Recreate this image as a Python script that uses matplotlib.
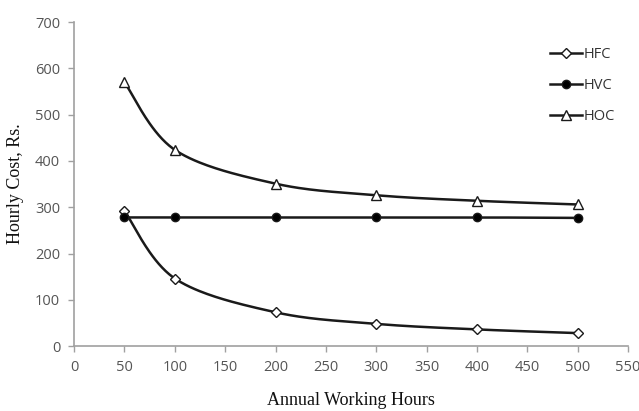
import numpy as np
import matplotlib
matplotlib.use("Agg")
import matplotlib.pyplot as plt

hours = [50, 100, 200, 300, 400, 500]
hfc = [292, 146, 73, 48, 36, 28]
hvc = [278, 278, 278, 278, 278, 277]
hoc = [570, 424, 351, 326, 314, 306]

x_ticks = list(range(0, 551, 50))
y_ticks = list(range(0, 701, 100))


def smooth(xs, ys, n=40):
    """Bezier curve through the points with control points at P + (next - prev) / 6."""
    pts = np.column_stack([xs, ys]).astype(float)
    k = len(pts)
    tang = np.empty_like(pts)
    tang[1:-1] = (pts[2:] - pts[:-2]) / 6.0
    tang[0] = (pts[1] - pts[0]) / 6.0
    tang[-1] = (pts[-1] - pts[-2]) / 6.0
    t = np.linspace(0, 1, n)[:, None]
    out = []
    for i in range(k - 1):
        p0, p3 = pts[i], pts[i + 1]
        p1, p2 = p0 + tang[i], p3 - tang[i + 1]
        seg = ((1 - t) ** 3) * p0 + 3 * ((1 - t) ** 2) * t * p1 \
            + 3 * (1 - t) * t ** 2 * p2 + t ** 3 * p3
        out.append(seg)
    out = np.vstack(out)
    return out[:, 0], out[:, 1]


fig = plt.figure(figsize=(6.39, 4.11), dpi=100)
ax = fig.add_axes([0.116, 0.158, 0.867, 0.788])

series = [
    ("HFC", hfc, dict(marker="D", markersize=5, markerfacecolor="white")),
    ("HVC", hvc, dict(marker="o", markersize=6, markerfacecolor="black")),
    ("HOC", hoc, dict(marker="^", markersize=7, markerfacecolor="white")),
]
for name, vals, mk in series:
    sx, sy = smooth(hours, vals)
    ax.plot(sx, sy, color="#1a1a1a", lw=1.8, zorder=2)
    ax.plot(hours, vals, linestyle="none", color="#1a1a1a",
            markeredgecolor="#1a1a1a", markeredgewidth=1.0, zorder=3, **mk)
    ax.plot([], [], color="#1a1a1a", lw=1.8, markeredgecolor="#1a1a1a",
            markeredgewidth=1.0, label=name, **mk)

ax.set_xlim(0, 550)
ax.set_ylim(0, 700)
ax.set_xticks(x_ticks)
ax.set_yticks(y_ticks)

for side in ("top", "right"):
    ax.spines[side].set_visible(False)
for side in ("left", "bottom"):
    ax.spines[side].set_color("#a0a0a0")
    ax.spines[side].set_linewidth(1.2)
ax.tick_params(colors="#a0a0a0", length=4, width=1, labelcolor="#555555",
               labelsize=10.5, pad=6)
for lbl in ax.get_xticklabels() + ax.get_yticklabels():
    lbl.set_family("Open Sans")

ax.set_xlabel("Annual Working Hours", family="Liberation Serif",
              fontsize=13, labelpad=12, color="#111111")
ax.set_ylabel("Hourly Cost, Rs.", family="Liberation Serif",
              fontsize=13, labelpad=8, color="#111111")

leg = ax.legend(loc="upper right", bbox_to_anchor=(1.0, 0.965), frameon=False,
                handlelength=2.2, handletextpad=0.1, labelspacing=1.1,
                prop={"family": "Open Sans", "size": 10.5})
for t in leg.get_texts():
    t.set_color("#333333")

fig.savefig("out.png", dpi=100, facecolor="white")
